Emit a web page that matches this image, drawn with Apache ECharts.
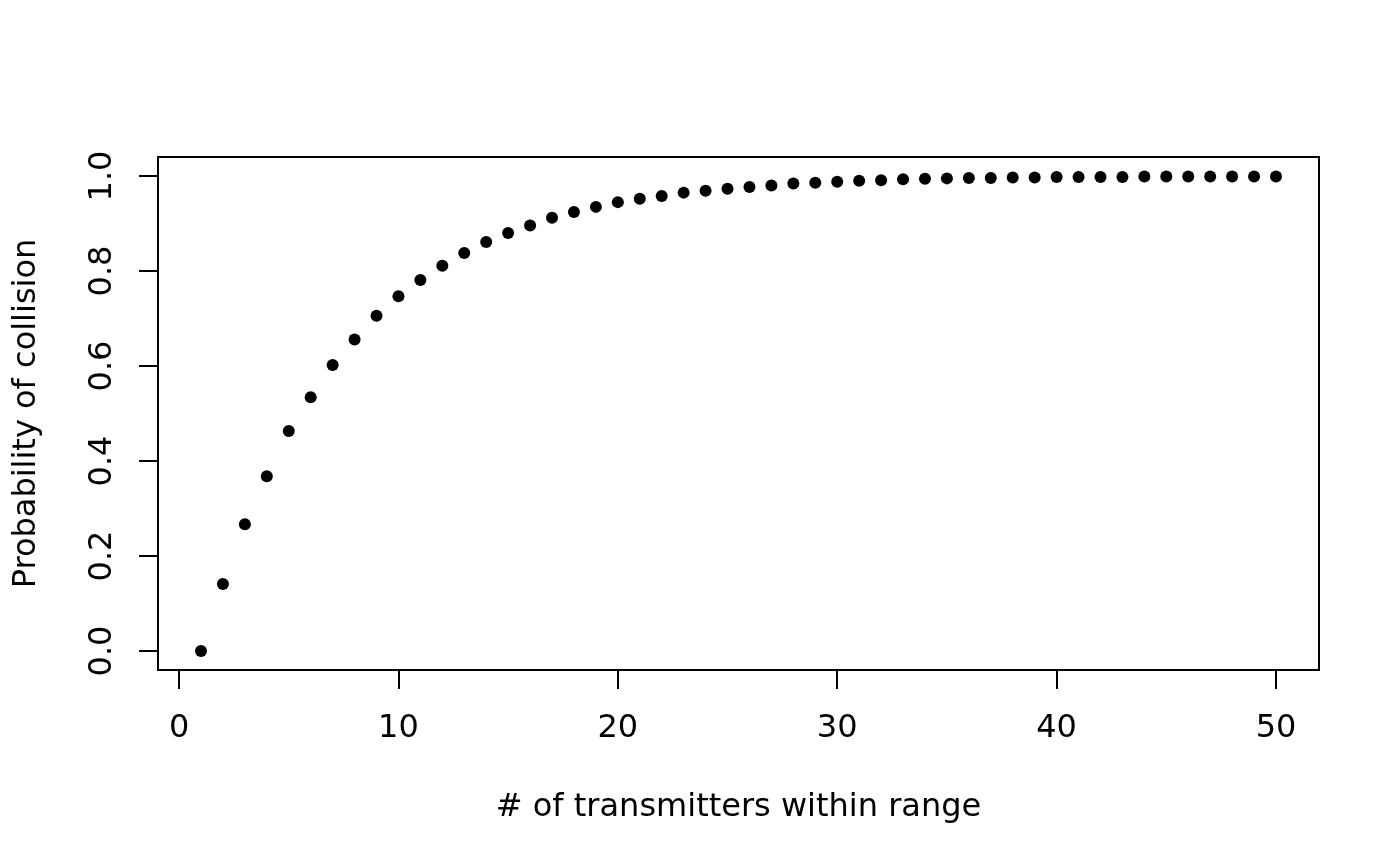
<!DOCTYPE html>
<html style="height: 100%">

<head>
  <meta charset="utf-8">
</head>

<body style="height: 100%; margin: 0; background: #fff">
  <div id="container" style="width: 1400px; height: 866px"></div>
  <script type="text/javascript" src="https://cdn.jsdelivr.net/npm/echarts@6/dist/echarts.min.js"></script>
  <script type="text/javascript">
    // number of transmitters within range
    var transmitters = [];
    for (var i = 1; i <= 50; i++) transmitters.push(i);

    // probability of collision
    var probability = [
      0.000, 0.141, 0.267, 0.368, 0.463, 0.534, 0.602, 0.656, 0.706, 0.747,
      0.781, 0.811, 0.838, 0.861, 0.880, 0.896, 0.912, 0.924, 0.935, 0.945,
      0.952, 0.958, 0.965, 0.969, 0.973, 0.977, 0.980, 0.984, 0.986, 0.988,
      0.990, 0.991, 0.993, 0.994, 0.995, 0.996, 0.996, 0.997, 0.997, 0.998,
      0.998, 0.998, 0.998, 0.999, 0.999, 0.999, 0.999, 0.999, 0.999, 0.999
    ];

    var xTicks = [0, 10, 20, 30, 40, 50];
    var yTicks = [0, 0.2, 0.4, 0.6, 0.8, 1.0];

    var points = transmitters.map(function (n, i) {
      return [n, probability[i]];
    });

    var font = 'DejaVu Sans';
    var dom = document.getElementById("container");
    var myChart = echarts.init(dom);

    var option = {
      animation: false,
      backgroundColor: '#fff',
      grid: {
        left: 158,
        right: 81,
        top: 157,
        bottom: 196,
        show: true,
        borderColor: '#000',
        borderWidth: 2,
        backgroundColor: 'transparent'
      },
      xAxis: {
        type: 'value',
        min: -0.96,
        max: 51.96,
        name: '# of transmitters within range',
        nameLocation: 'middle',
        nameGap: 122,
        nameTextStyle: { fontFamily: font, fontSize: 32, color: '#000' },
        axisLine: { show: false, onZero: false },
        splitLine: { show: false },
        axisTick: {
          show: true,
          inside: false,
          length: 19,
          customValues: xTicks,
          lineStyle: { color: '#000', width: 2 }
        },
        axisLabel: {
          customValues: xTicks,
          margin: 43,
          fontFamily: font,
          fontSize: 32,
          color: '#000'
        }
      },
      yAxis: {
        type: 'value',
        min: -0.04,
        max: 1.04,
        name: 'Probability of collision',
        nameLocation: 'middle',
        nameRotate: 90,
        nameGap: 115,
        nameTextStyle: { fontFamily: font, fontSize: 32, color: '#000' },
        axisLine: { show: false, onZero: false },
        splitLine: { show: false },
        axisTick: {
          show: true,
          inside: false,
          length: 19,
          customValues: yTicks,
          lineStyle: { color: '#000', width: 2 }
        },
        axisLabel: {
          customValues: yTicks,
          rotate: 90,
          margin: 39,
          fontFamily: font,
          fontSize: 32,
          color: '#000',
          formatter: function (v) { return v.toFixed(1); }
        }
      },
      series: [{
        type: 'scatter',
        data: points,
        symbol: 'circle',
        symbolSize: 12,
        itemStyle: { color: '#000', opacity: 1 }
      }]
    };

    myChart.setOption(option);
  </script>
</body>

</html>
